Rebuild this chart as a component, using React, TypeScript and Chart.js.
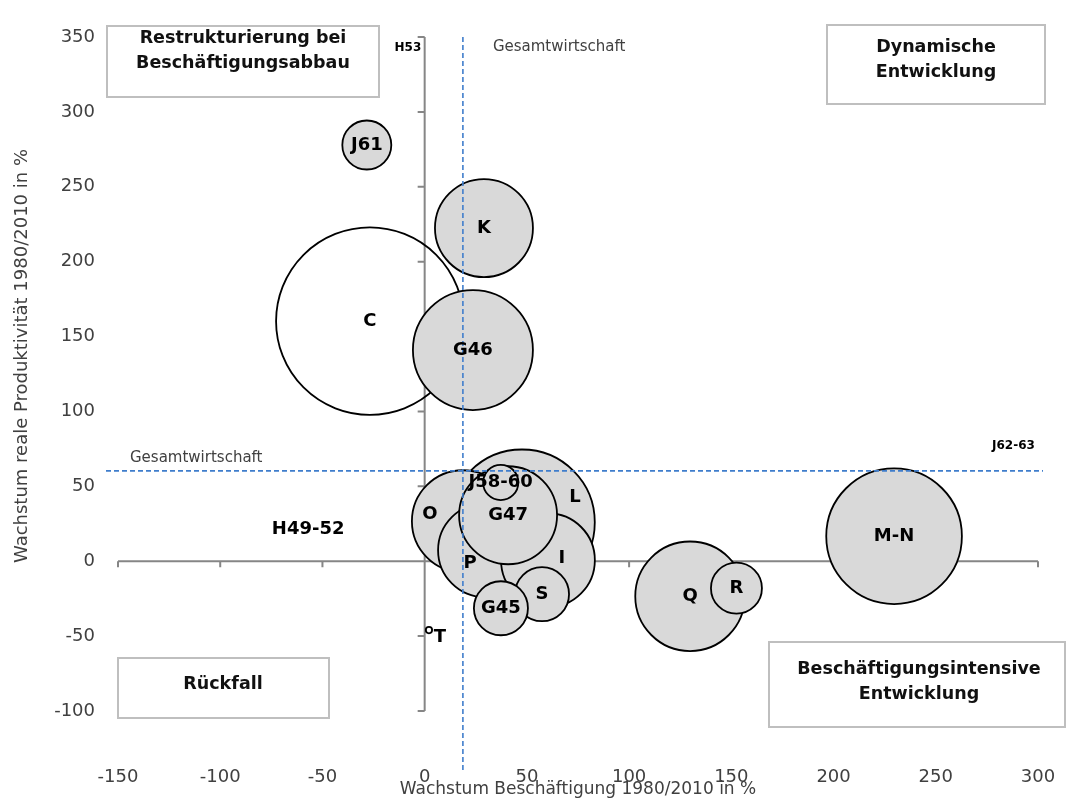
import React, { useEffect, useRef } from "react";
import { Chart, registerables } from "chart.js";

Chart.register(...registerables);

// ---- data ----
const sectors = ["C", "K", "G46", "J61", "L", "O", "P", "I", "G47", "J58-60", "S", "G45", "Q", "R", "M-N", "T", "H49-52", "H53", "J62-63"];
const employmentGrowth = [-26.8, 29.0, 23.6, -28.3, 47.6, 18.7, 29.5, 60.3, 40.8, 37.2, 57.4, 37.3, 129.8, 152.5, 229.6, 2.1, -57.0, -8.2, 288.0];
const productivityGrowth = [160.3, 222.4, 141.0, 277.9, 26.0, 26.7, 7.3, 0.7, 30.7, 52.6, -22.0, -31.4, -23.4, -18.0, 16.7, -46.0, 21.4, 343.0, 77.0];
const bubbleSize = [88, 24, 36, 6, 53, 26, 22, 22, 24, 3.1, 7.3, 7.3, 30, 6.5, 46, 0.1, 0, 0, 0];
const unfilledSectors = ["C", "T"];
const smallLabelSectors = ["H53", "J62-63"];

const totalEconomyEmployment = 18.7;
const totalEconomyProductivity = 60.3;
const totalEconomyLabel = "Gesamtwirtschaft";

const xMin = -150, xMax = 300, xStep = 50;
const yMin = -100, yMax = 350, yStep = 50;

const xTitle = "Wachstum Beschäftigung 1980/2010 in %";
const yTitle = "Wachstum reale Produktivität 1980/2010 in %";

const quadrantTexts = [
  ["Restrukturierung bei", "Beschäftigungsabbau"],
  ["Dynamische", "Entwicklung"],
  ["Rückfall"],
  ["Beschäftigungsintensive", "Entwicklung"],
];

// ---- styling / layout ----
const FONT = "'DejaVu Sans', sans-serif";
const TEXT = "#404040";
const labelOffsets: Record<string, [number, number]> = {
  O: [-33, -7],
  L: [53, -25],
  P: [-15, 13],
  I: [14, -2],
  T: [11, 7],
};
const boxes = [
  { x: 107, y: 26, w: 272, h: 71, cx: 243, lines: [38, 63] },
  { x: 827, y: 25, w: 218, h: 79, cx: 936, lines: [47, 72] },
  { x: 118, y: 658, w: 211, h: 60, cx: 223, lines: [684] },
  { x: 769, y: 642, w: 296, h: 85, cx: 919, lines: [669, 694] },
];

const range = (a: number, b: number, s: number) => {
  const out: number[] = [];
  for (let v = a; v <= b + 1e-9; v += s) out.push(v);
  return out;
};

const overlay = {
  id: "overlay",
  beforeDatasetsDraw(chart: any) {
    const { ctx, scales } = chart;
    const x = scales.x, y = scales.y;
    const x0 = x.getPixelForValue(0);
    const y0 = y.getPixelForValue(0);
    ctx.save();
    ctx.strokeStyle = "#868686";
    ctx.lineWidth = 2;
    ctx.beginPath();
    ctx.moveTo(x.getPixelForValue(xMin), y0);
    ctx.lineTo(x.getPixelForValue(xMax), y0);
    ctx.moveTo(x0, y.getPixelForValue(yMin));
    ctx.lineTo(x0, y.getPixelForValue(yMax));
    range(xMin, xMax, xStep).forEach((v) => {
      const px = x.getPixelForValue(v);
      ctx.moveTo(px, y0);
      ctx.lineTo(px, y0 + 6);
    });
    range(yMin, yMax, yStep).forEach((v) => {
      const py = y.getPixelForValue(v);
      ctx.moveTo(x0, py);
      ctx.lineTo(x0 - 7, py);
    });
    ctx.stroke();

    // y axis title
    ctx.fillStyle = TEXT;
    ctx.font = `18px ${FONT}`;
    ctx.textAlign = "center";
    ctx.textBaseline = "middle";
    ctx.translate(22, 356);
    ctx.rotate(-Math.PI / 2);
    ctx.fillText(yTitle, 0, 0);
    ctx.restore();
  },
  afterDatasetsDraw(chart: any) {
    const { ctx, scales } = chart;
    const x = scales.x, y = scales.y;
    ctx.save();
    // total economy dashed lines
    const vx = x.getPixelForValue(totalEconomyEmployment);
    const hy = y.getPixelForValue(totalEconomyProductivity);
    ctx.strokeStyle = "#3f7dcc";
    ctx.lineWidth = 1.6;
    ctx.setLineDash([5, 3]);
    ctx.beginPath();
    ctx.moveTo(vx, y.getPixelForValue(yMax));
    ctx.lineTo(vx, 770);
    ctx.moveTo(106, hy);
    ctx.lineTo(x.getPixelForValue(xMax) + 5, hy);
    ctx.stroke();
    ctx.setLineDash([]);

    ctx.fillStyle = TEXT;
    ctx.font = `15px ${FONT}`;
    ctx.textBaseline = "middle";
    ctx.textAlign = "left";
    ctx.fillText(totalEconomyLabel, vx + 30, y.getPixelForValue(yMax) + 10);
    ctx.fillText(totalEconomyLabel, 130, hy - 13);

    // bubble labels
    const meta = chart.getDatasetMeta(0);
    ctx.fillStyle = "#000";
    ctx.textAlign = "center";
    sectors.forEach((name, i) => {
      const el = meta.data[i];
      if (!el) return;
      const off = labelOffsets[name] || [0, 0];
      const small = smallLabelSectors.includes(name);
      ctx.font = `bold ${small ? 12 : 18}px ${FONT}`;
      ctx.fillText(name, el.x + off[0], el.y + off[1]);
    });

    // quadrant boxes
    boxes.forEach((b, i) => {
      ctx.fillStyle = "#fff";
      ctx.fillRect(b.x, b.y, b.w, b.h);
      ctx.strokeStyle = "#bfbfbf";
      ctx.lineWidth = 2;
      ctx.strokeRect(b.x, b.y, b.w, b.h);
      ctx.fillStyle = "#111";
      ctx.font = `bold 17.5px ${FONT}`;
      quadrantTexts[i].forEach((t, k) => ctx.fillText(t, b.cx, b.lines[k]));
    });
    ctx.restore();
  },
};

export default function App() {
  const ref = useRef<HTMLCanvasElement>(null);
  useEffect(() => {
    if (!ref.current) return;
    const points = sectors.map((_, i) => ({
      x: employmentGrowth[i],
      y: productivityGrowth[i],
      r: Math.sqrt(bubbleSize[i]) * 10,
    }));
    const chart = new Chart(ref.current, {
      type: "bubble",
      data: {
        datasets: [
          {
            data: points,
            backgroundColor: sectors.map((s) => (s === "C" ? "rgba(0,0,0,0)" : unfilledSectors.includes(s) ? "#ffffff" : "#d9d9d9")),
            borderColor: "#000",
            borderWidth: 1.8,
            clip: false as any,
          },
        ],
      },
      options: {
        animation: false,
        responsive: true,
        maintainAspectRatio: false,
        events: [],
        layout: { autoPadding: false, padding: { top: 37, right: 32, left: 0, bottom: 0 } },
        plugins: { legend: { display: false }, tooltip: { enabled: false } },
        scales: {
          x: {
            type: "linear",
            min: xMin,
            max: xMax,
            afterFit: (s: any) => {
              s.height = 96;
              s.paddingLeft = 0;
              s.paddingRight = 0;
            },
            grid: { display: false, drawTicks: false },
            border: { display: false },
            ticks: { stepSize: xStep, padding: 56, color: TEXT, font: { family: FONT, size: 18 } },
            title: { display: true, text: xTitle, color: TEXT, font: { family: FONT, size: 17 }, padding: { top: 0, bottom: 7 } },
          },
          y: {
            type: "linear",
            min: yMin,
            max: yMax,
            afterFit: (s: any) => {
              s.width = 118;
              s.paddingTop = 0;
              s.paddingBottom = 0;
            },
            grid: { display: false, drawTicks: false },
            border: { display: false },
            ticks: { stepSize: yStep, padding: 23, color: TEXT, font: { family: FONT, size: 18 } },
            title: { display: false, text: yTitle },
          },
        },
      },
      plugins: [overlay],
    });
    return () => chart.destroy();
  }, []);
  return (
    <div style={{ position: "absolute", left: 0, top: 0, width: 1070, height: 807, background: "#fff" }}>
      <canvas ref={ref} />
    </div>
  );
}
